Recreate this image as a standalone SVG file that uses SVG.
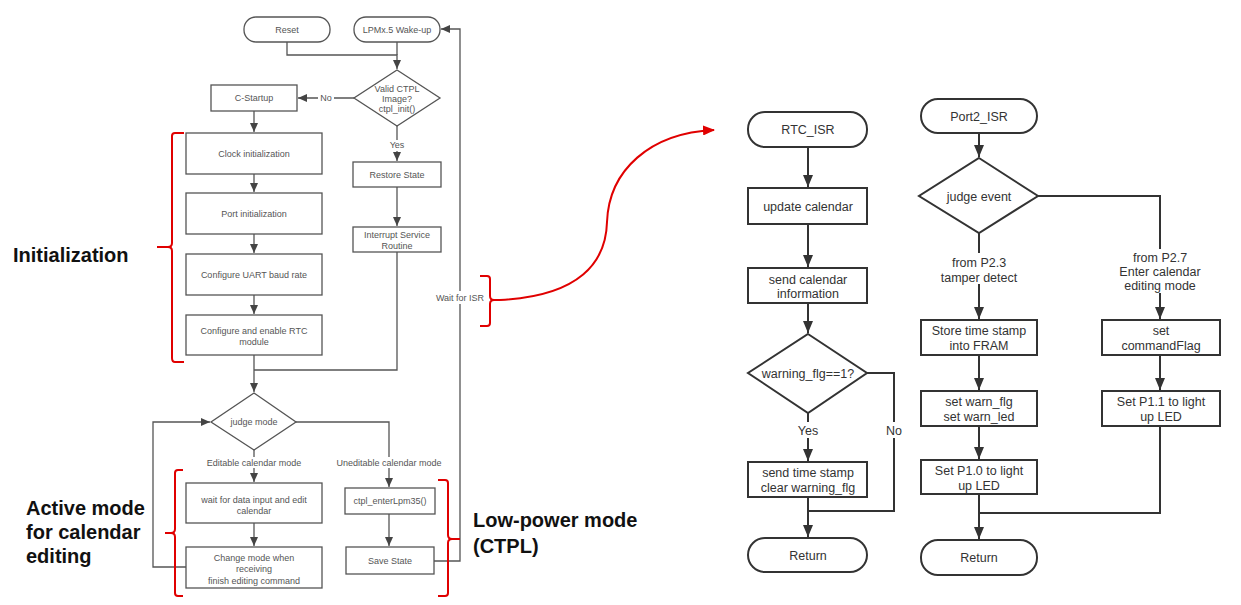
<svg xmlns="http://www.w3.org/2000/svg" width="1241" height="605" viewBox="0 0 1241 605">
<defs>
<style>
.l{fill:none;stroke:#555;stroke-width:1.3}
.lb{fill:#fff;stroke:#555;stroke-width:1.3}
.lt{font-family:"Liberation Sans",Arial,sans-serif;font-size:9px;fill:#555;text-anchor:middle}
.r{fill:none;stroke:#333;stroke-width:2}
.rb{fill:#fff;stroke:#333;stroke-width:2}
.rt{font-family:"Liberation Sans",Arial,sans-serif;font-size:12.5px;fill:#333;text-anchor:middle}
.red{fill:none;stroke:#e00000;stroke-width:2}
.big{font-family:"Liberation Sans",Arial,sans-serif;font-size:20px;font-weight:bold;fill:#111}
.bg{fill:#fff}
</style>
<marker id="aL" markerUnits="userSpaceOnUse" markerWidth="9" markerHeight="8" refX="9" refY="4" orient="auto"><path d="M0,0 L9,4 L0,8 Z" fill="#444"/></marker>
<marker id="aR" markerUnits="userSpaceOnUse" markerWidth="12" markerHeight="10" refX="12" refY="5" orient="auto"><path d="M0,0 L12,5 L0,10 Z" fill="#333"/></marker>
<marker id="aRed" markerUnits="userSpaceOnUse" markerWidth="12" markerHeight="10" refX="11" refY="5" orient="auto"><path d="M0,0 L12,5 L0,10 Z" fill="#e00000"/></marker>
</defs>
<rect width="1241" height="605" fill="#fff"/>

<g id="connectors">
<!-- left chart -->
<path class="l" d="M287,42 V55 H397 V69" marker-end="url(#aL)"/>
<path class="l" d="M397,42 V55"/>
<path class="l" d="M354,98 H298" marker-end="url(#aL)"/>
<path class="l" d="M254,111 V132" marker-end="url(#aL)"/>
<path class="l" d="M254,174 V192" marker-end="url(#aL)"/>
<path class="l" d="M254,234 V253" marker-end="url(#aL)"/>
<path class="l" d="M254,295 V314" marker-end="url(#aL)"/>
<path class="l" d="M397,126 V161" marker-end="url(#aL)"/>
<path class="l" d="M397,187 V226" marker-end="url(#aL)"/>
<path class="l" d="M397,252 V370 H254"/>
<path class="l" d="M254,355 V392" marker-end="url(#aL)"/>
<path class="l" d="M186,567 H153 V422 H210" marker-end="url(#aL)"/>
<path class="l" d="M254,449 V482" marker-end="url(#aL)"/>
<path class="l" d="M254,523 V546" marker-end="url(#aL)"/>
<path class="l" d="M296,422 H389 V487" marker-end="url(#aL)"/>
<path class="l" d="M389,514 V546" marker-end="url(#aL)"/>
<path class="l" d="M434,561 H460 V29 H441" marker-end="url(#aL)"/>
<!-- right chart -->
<path class="r" d="M808,147 V187" marker-end="url(#aR)"/>
<path class="r" d="M808,224 V267" marker-end="url(#aR)"/>
<path class="r" d="M808,303 V333" marker-end="url(#aR)"/>
<path class="r" d="M808,413 V461" marker-end="url(#aR)"/>
<path class="r" d="M867,373 H894 V511 H808"/>
<path class="r" d="M808,497 V537" marker-end="url(#aR)"/>
<path class="r" d="M979,133 V157" marker-end="url(#aR)"/>
<path class="r" d="M979,232 V319" marker-end="url(#aR)"/>
<path class="r" d="M1038,196 H1160 V319" marker-end="url(#aR)"/>
<path class="r" d="M979,355 V390" marker-end="url(#aR)"/>
<path class="r" d="M979,426 V459" marker-end="url(#aR)"/>
<path class="r" d="M1160,355 V390" marker-end="url(#aR)"/>
<path class="r" d="M1160,426 V513 H979"/>
<path class="r" d="M979,494 V539" marker-end="url(#aR)"/>
<!-- red link -->
<path class="red" d="M500,300 C580,296 606,262 607,222 C609,170 650,133 714,130" marker-end="url(#aRed)"/>
</g>

<g id="labels">
<rect class="bg" x="318" y="93" width="16" height="11"/>
<text class="lt" x="326" y="101">No</text>
<rect class="bg" x="388" y="140" width="18" height="11"/>
<text class="lt" x="397" y="148">Yes</text>
<rect class="bg" x="434" y="291" width="52" height="13"/>
<text class="lt" x="460" y="301">Wait for ISR</text>
<rect class="bg" x="204" y="457" width="100" height="11"/>
<text class="lt" x="254" y="466">Editable calendar mode</text>
<rect class="bg" x="334" y="457" width="110" height="11"/>
<text class="lt" x="389" y="466">Uneditable calendar mode</text>
<rect class="bg" x="882" y="422" width="24" height="16"/>
<text class="rt" x="894" y="435">No</text>
<rect class="bg" x="794" y="422" width="28" height="16"/>
<text class="rt" x="808" y="435">Yes</text>
<rect class="bg" x="940" y="253" width="78" height="31"/>
<text class="rt" x="979" y="267">from P2.3</text>
<text class="rt" x="979" y="282">tamper detect</text>
<rect class="bg" x="1120" y="249" width="80" height="44"/>
<text class="rt" x="1160" y="262">from P2.7</text>
<text class="rt" x="1160" y="276">Enter calendar</text>
<text class="rt" x="1160" y="290">editing mode</text>
</g>

<g id="n-reset"><rect class="lb" x="244" y="17" width="86" height="25" rx="12"/><text class="lt" x="287" y="33">Reset</text></g>
<g id="n-wake"><rect class="lb" x="354" y="17" width="86" height="25" rx="12"/><text class="lt" x="397" y="33">LPMx.5 Wake-up</text></g>
<g id="n-valid"><path class="lb" d="M397,70 L440,98 L397,126 L354,98 Z"/><text class="lt" x="397" y="92">Valid CTPL</text><text class="lt" x="397" y="102">Image?</text><text class="lt" x="397" y="112">ctpl_init()</text></g>
<g id="n-cstartup"><rect class="lb" x="211" y="85" width="86" height="26"/><text class="lt" x="254" y="101">C-Startup</text></g>
<g id="n-clock"><rect class="lb" x="186" y="133" width="136" height="41"/><text class="lt" x="254" y="157">Clock initialization</text></g>
<g id="n-port"><rect class="lb" x="186" y="193" width="136" height="41"/><text class="lt" x="254" y="217">Port initialization</text></g>
<g id="n-uart"><rect class="lb" x="186" y="254" width="136" height="41"/><text class="lt" x="254" y="278">Configure UART baud rate</text></g>
<g id="n-rtc"><rect class="lb" x="186" y="315" width="136" height="40"/><text class="lt" x="254" y="334">Configure and enable RTC</text><text class="lt" x="254" y="345">module</text></g>
<g id="n-restore"><rect class="lb" x="353" y="162" width="88" height="25"/><text class="lt" x="397" y="178">Restore State</text></g>
<g id="n-isr"><rect class="lb" x="353" y="227" width="88" height="25"/><text class="lt" x="397" y="238">Interrupt Service</text><text class="lt" x="397" y="249">Routine</text></g>
<g id="n-judge"><path class="lb" d="M254,393 L296,422 L254,450 L211,422 Z"/><text class="lt" x="254" y="425">judge mode</text></g>
<g id="n-wait"><rect class="lb" x="186" y="483" width="136" height="40"/><text class="lt" x="254" y="503">wait for data input and edit</text><text class="lt" x="254" y="514">calendar</text></g>
<g id="n-change"><rect class="lb" x="186" y="547" width="136" height="41"/><text class="lt" x="254" y="561">Change mode when</text><text class="lt" x="254" y="572">receiving</text><text class="lt" x="254" y="584">finish editing command</text></g>
<g id="n-enter"><rect class="lb" x="345" y="488" width="90" height="26"/><text class="lt" x="390" y="504">ctpl_enterLpm35()</text></g>
<g id="n-save"><rect class="lb" x="346" y="547" width="88" height="27"/><text class="lt" x="390" y="564">Save State</text></g>

<g id="n-rtcisr"><rect class="rb" x="748" y="112" width="119" height="35" rx="17"/><text class="rt" x="808" y="134">RTC_ISR</text></g>
<g id="n-update"><rect class="rb" x="748" y="188" width="119" height="36"/><text class="rt" x="808" y="211">update calendar</text></g>
<g id="n-send"><rect class="rb" x="748" y="268" width="119" height="35"/><text class="rt" x="808" y="284">send calendar</text><text class="rt" x="808" y="298">information</text></g>
<g id="n-warn"><path class="rb" d="M808,334 L867,373 L808,413 L748,373 Z"/><text class="rt" x="808" y="378">warning_flg==1?</text></g>
<g id="n-stamp"><rect class="rb" x="748" y="462" width="119" height="35"/><text class="rt" x="808" y="477">send time stamp</text><text class="rt" x="808" y="492">clear warning_flg</text></g>
<g id="n-ret1"><rect class="rb" x="748" y="538" width="119" height="34" rx="17"/><text class="rt" x="808" y="560">Return</text></g>

<g id="n-port2"><rect class="rb" x="921" y="99" width="116" height="34" rx="17"/><text class="rt" x="979" y="121">Port2_ISR</text></g>
<g id="n-event"><path class="rb" d="M979,158 L1038,196 L979,233 L919,196 Z"/><text class="rt" x="979" y="201">judge event</text></g>
<g id="n-store"><rect class="rb" x="921" y="320" width="116" height="35"/><text class="rt" x="979" y="335">Store time stamp</text><text class="rt" x="979" y="350">into FRAM</text></g>
<g id="n-setwarn"><rect class="rb" x="921" y="391" width="116" height="35"/><text class="rt" x="979" y="406">set warn_flg</text><text class="rt" x="979" y="421">set warn_led</text></g>
<g id="n-p10"><rect class="rb" x="921" y="460" width="116" height="34"/><text class="rt" x="979" y="475">Set P1.0 to light</text><text class="rt" x="979" y="490">up LED</text></g>
<g id="n-cmd"><rect class="rb" x="1102" y="320" width="118" height="35"/><text class="rt" x="1161" y="335">set</text><text class="rt" x="1161" y="350">commandFlag</text></g>
<g id="n-p11"><rect class="rb" x="1102" y="391" width="118" height="35"/><text class="rt" x="1161" y="406">Set P1.1 to light</text><text class="rt" x="1161" y="421">up LED</text></g>
<g id="n-ret2"><rect class="rb" x="921" y="540" width="116" height="35" rx="17"/><text class="rt" x="979" y="562">Return</text></g>

<g id="braces">
<path class="red" d="M184,133 H175 Q172,133 172,136 V243 Q172,247 168,247 H157 M168,247 Q172,247 172,251 V358 Q172,362 175,362 H184"/>
<path class="red" d="M183,470 H178 Q175,470 175,473 V529 Q175,533 171,533 H165 M171,533 Q175,533 175,537 V593 Q175,596 178,596 H183"/>
<path class="red" d="M438,480 H445 Q448,480 448,483 V535 Q448,539 452,539 H460 M452,539 Q448,539 448,543 V593 Q448,596 445,596 H438"/>
<path class="red" d="M480,276 H487 Q490,276 490,279 V296 Q490,300 494,300 H500 M494,300 Q490,300 490,304 V323 Q490,326 487,326 H480"/>
</g>

<g id="titles">
<text class="big" x="13" y="262">Initialization</text>
<text class="big" x="26" y="515">Active mode</text>
<text class="big" x="26" y="539">for calendar</text>
<text class="big" x="26" y="563">editing</text>
<text class="big" x="473" y="527">Low-power mode</text>
<text class="big" x="473" y="553">(CTPL)</text>
</g>
</svg>
